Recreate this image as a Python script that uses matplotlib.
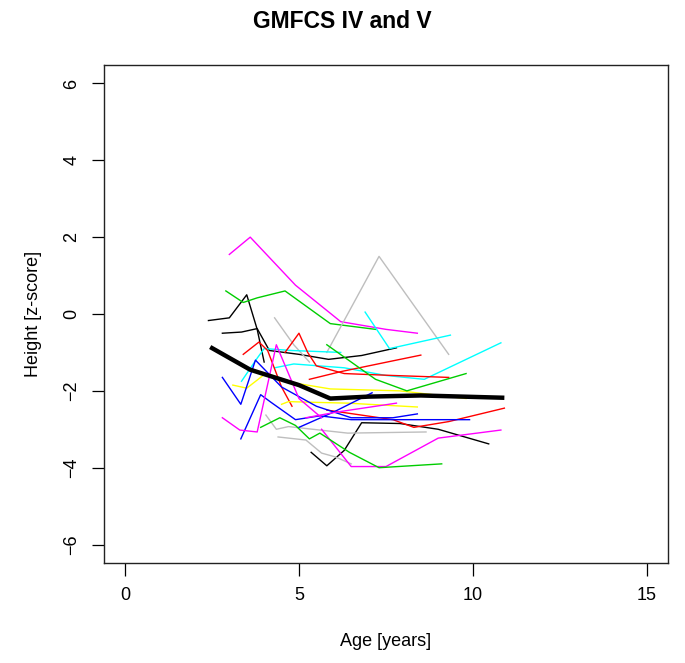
import matplotlib
matplotlib.use("Agg")
import matplotlib.pyplot as plt

plt.rcParams["font.family"] = ["Liberation Sans", "DejaVu Sans"]

# === DATA (age in years, height z-score) ===
s01_age = [2.4, 3.0, 3.5, 3.8, 4.0]
s01_z = [-0.17, -0.1, 0.5, -0.4, -1.25]
s02_age = [2.8, 3.35, 3.8, 4.15, 5.0, 5.85, 6.8, 7.8]
s02_z = [-0.5, -0.47, -0.38, -0.95, -1.05, -1.18, -1.08, -0.88]
s03_age = [5.35, 5.8, 6.3, 6.8, 7.9, 9.0, 10.45]
s03_z = [-3.6, -3.95, -3.55, -2.83, -2.85, -3.0, -3.38]
s04_age = [3.0, 3.6, 4.9, 6.2, 7.5, 8.4]
s04_z = [1.55, 2.0, 0.75, -0.2, -0.4, -0.5]
s05_age = [2.9, 3.4, 3.8, 4.6, 5.9, 7.2]
s05_z = [0.6, 0.3, 0.42, 0.6, -0.25, -0.4]
s06_age = [5.8, 7.3, 9.3]
s06_z = [-1.0, 1.5, -1.05]
s07_age = [4.3, 4.85, 5.3]
s07_z = [-0.1, -0.8, -1.25]
s08_age = [4.05, 4.35, 4.7, 6.4, 8.65]
s08_z = [-2.63, -3.0, -2.93, -3.1, -3.07]
s09_age = [4.4, 5.2, 5.65, 6.05, 6.5]
s09_z = [-3.2, -3.28, -3.62, -3.72, -3.9]
s10_age = [6.9, 7.6, 9.35]
s10_z = [0.05, -0.9, -0.55]
s11_age = [3.35, 3.8, 4.0, 4.8, 6.2]
s11_z = [-1.75, -1.15, -0.9, -0.95, -1.0]
s12_age = [4.3, 4.85, 6.3, 7.5, 8.6, 10.8]
s12_z = [-1.4, -1.3, -1.4, -1.6, -1.7, -0.75]
s13_age = [3.4, 3.85, 4.1, 4.5, 4.8]
s13_z = [-1.05, -0.73, -0.95, -1.9, -2.4]
s14_age = [4.6, 5.0, 5.25, 5.5, 6.3, 7.7, 9.3]
s14_z = [-1.0, -0.5, -1.0, -1.35, -1.55, -1.6, -1.65]
s15_age = [5.3, 6.2, 7.8, 8.5]
s15_z = [-1.7, -1.5, -1.2, -1.07]
s16_age = [5.8, 7.7, 8.3, 9.3, 10.9]
s16_z = [-2.5, -2.75, -2.95, -2.8, -2.45]
s17_age = [3.1, 3.5, 3.8, 4.05, 4.9, 5.9, 7.9, 9.8]
s17_z = [-1.85, -1.93, -1.72, -1.54, -1.8, -1.95, -2.0, -2.2]
s18_age = [4.5, 4.7, 5.5, 6.4, 8.4]
s18_z = [-2.35, -2.28, -2.3, -2.32, -2.42]
s19_age = [2.8, 3.33, 3.75, 4.5, 5.5, 6.5, 7.7, 8.4]
s19_z = [-1.65, -2.35, -1.2, -1.9, -2.4, -2.7, -2.7, -2.6]
s20_age = [3.33, 3.9, 4.2, 4.9, 5.6, 6.5, 7.7, 9.9]
s20_z = [-3.25, -2.1, -2.3, -2.75, -2.65, -2.75, -2.75, -2.75]
s21_age = [5.0, 6.0, 7.1]
s21_z = [-2.95, -2.55, -2.05]
s22_age = [2.8, 3.3, 3.8, 4.35, 5.0, 5.65]
s22_z = [-2.7, -3.02, -3.07, -0.8, -2.2, -2.7]
s23_age = [5.65, 6.5, 7.5, 9.0, 10.8]
s23_z = [-3.0, -3.97, -3.97, -3.23, -3.02]
s24_age = [5.2, 6.1, 7.8]
s24_z = [-2.7, -2.55, -2.32]
s25_age = [3.9, 4.45, 4.9, 5.3, 5.6, 6.45, 7.3, 9.1]
s25_z = [-2.95, -2.7, -2.9, -3.25, -3.1, -3.6, -4.0, -3.9]
s26_age = [5.8, 7.2, 8.1, 9.8]
s26_z = [-0.8, -1.7, -2.0, -1.55]

mean_age = [2.45, 3.6, 5.0, 5.9, 7.0, 8.5, 10.9]
mean_z = [-0.86, -1.45, -1.85, -2.2, -2.15, -2.12, -2.18]

x_ticks = [0, 5, 10, 15]
y_ticks = [-6, -4, -2, 0, 2, 4, 6]

# R default palette
BLACK, RED, GREEN, BLUE = "black", "#FF0000", "#00CD00", "#0000FF"
CYAN, MAGENTA, YELLOW, GRAY = "#00FFFF", "#FF00FF", "#FFFF00", "#BEBEBE"

subjects = [
    (s01_age, s01_z, BLACK), (s02_age, s02_z, BLACK), (s03_age, s03_z, BLACK),
    (s04_age, s04_z, MAGENTA), (s05_age, s05_z, GREEN), (s06_age, s06_z, GRAY),
    (s07_age, s07_z, GRAY), (s08_age, s08_z, GRAY), (s09_age, s09_z, GRAY),
    (s10_age, s10_z, CYAN), (s11_age, s11_z, CYAN), (s12_age, s12_z, CYAN),
    (s13_age, s13_z, RED), (s14_age, s14_z, RED), (s15_age, s15_z, RED),
    (s16_age, s16_z, RED), (s17_age, s17_z, YELLOW), (s18_age, s18_z, YELLOW),
    (s19_age, s19_z, BLUE), (s20_age, s20_z, BLUE), (s21_age, s21_z, BLUE),
    (s22_age, s22_z, MAGENTA), (s23_age, s23_z, MAGENTA), (s24_age, s24_z, MAGENTA),
    (s25_age, s25_z, GREEN), (s26_age, s26_z, GREEN),
]

# === PLOT ===
fig = plt.figure(figsize=(6.85, 6.63), dpi=100)
ax = fig.add_axes([104 / 685, 1 - 563 / 663, 564 / 685, 498 / 663])

for age, z, col in subjects:
    ax.plot(age, z, color=col, lw=1.0)

ax.plot(mean_age, mean_z, color="black", lw=3.2, solid_capstyle="butt")

ax.set_xlim(-0.6, 15.6)
ax.set_ylim(-6.48, 6.48)
ax.set_xticks(x_ticks)
ax.set_yticks(y_ticks)
ax.tick_params(direction="out", length=9, width=0.9, labelsize=13, pad=8)
for lbl in ax.get_yticklabels():
    lbl.set_rotation(90)
    lbl.set_va("center")
for sp in ax.spines.values():
    sp.set_linewidth(1.0)
    sp.set_color("#222222")

fig.text(0.5, 1 - 22 / 663, "GMFCS IV and V", ha="center", va="center",
         fontsize=16.5, fontweight="bold")
fig.text((104 + 564 / 2) / 685, 1 - 641 / 663, "Age [years]", ha="center",
         va="center", fontsize=13)
fig.text(33 / 685, 1 - 314 / 663, "Height [z-score]", ha="center",
         va="center", rotation=90, fontsize=13)

fig.savefig("out.png", dpi=100)
